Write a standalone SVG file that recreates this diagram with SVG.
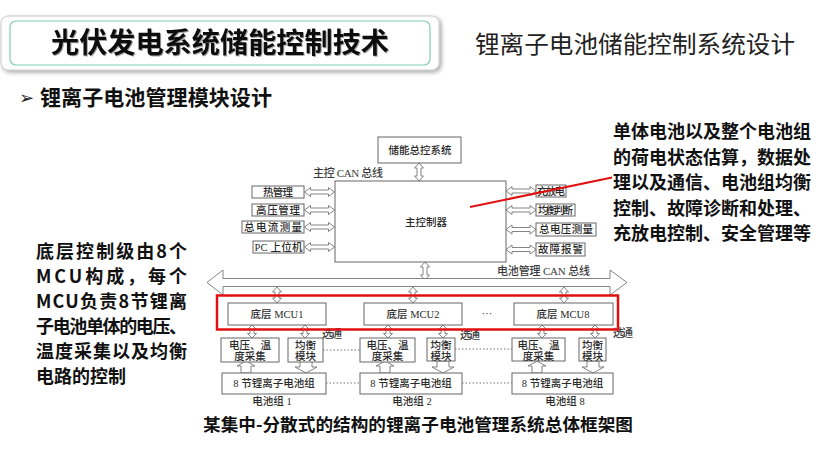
<svg xmlns="http://www.w3.org/2000/svg" xmlns:xlink="http://www.w3.org/1999/xlink" width="830" height="467" viewBox="0 0 830 467">
<style>
.bg{fill:#ffffff}
.box{fill:#ffffff;stroke:#666;stroke-width:1}
.arr{fill:#ffffff;stroke:#777;stroke-width:0.9;stroke-linejoin:miter}
.dot{stroke:#777;stroke-width:1;stroke-dasharray:1.5,2;fill:none}
.red{fill:none;stroke:#e01010}
.dt{font-family:"Liberation Serif","Noto Sans CJK SC",serif;font-size:10.5px;font-weight:500;fill:#2a2a2a;text-anchor:middle;dominant-baseline:central}
.lab{font-family:"Liberation Serif","Noto Sans CJK SC",serif;font-size:11px;font-weight:500;fill:#3a3a3a}
.bold{font-family:"Noto Sans CJK SC","Liberation Sans",sans-serif;font-weight:700;fill:#111}
</style>
<defs>
<filter id="sh" x="-5%" y="-20%" width="110%" height="140%">
<feDropShadow dx="2" dy="2" stdDeviation="2" flood-color="#000" flood-opacity="0.35"/>
</filter>
<filter id="tsh" x="-5%" y="-20%" width="110%" height="140%">
<feDropShadow dx="1" dy="1" stdDeviation="0.6" flood-color="#000" flood-opacity="0.35"/>
</filter>
<path id="ha" d="M0,0 L6,-4.5 L6,-2 L24,-2 L24,-4.5 L30,0 L24,4.5 L24,2 L6,2 L6,4.5 Z"/>
<path id="va18" d="M0,0 L4.5,5 L2,5 L2,13 L4.5,13 L0,18 L-4.5,13 L-2,13 L-2,5 L-4.5,5 Z"/>
<path id="va16" d="M0,0 L4.5,5 L2,5 L2,11 L4.5,11 L0,16 L-4.5,11 L-2,11 L-2,5 L-4.5,5 Z"/>
<path id="va13" d="M0,0 L4.5,4.5 L2,4.5 L2,8.5 L4.5,8.5 L0,13 L-4.5,8.5 L-2,8.5 L-2,4.5 L-4.5,4.5 Z"/>
<path id="ua" d="M0,0 L9,5 L5,5 L5,12 L-5,12 L-5,5 L-9,5 Z"/>
<path id="da" d="M-6,0 L6,0 L6,6 L11,6 L0,12 L-11,6 L-6,6 Z"/>
</defs>
<rect class="bg" x="0" y="0" width="830" height="467"/>

<g id="header">
<rect x="1" y="16" width="438" height="54" rx="7" fill="#fff" stroke="#c8c8c8" stroke-width="1" filter="url(#sh)"/>
<rect x="10" y="21" width="420" height="44" rx="6" fill="#fff" stroke="#7fd0b0" stroke-width="1.2"/>
<text class="bold" x="51" y="53" font-size="28" textLength="338" lengthAdjust="spacingAndGlyphs" fill="#000" filter="url(#tsh)">光伏发电系统储能控制技术</text>
<text x="475" y="52.5" font-family="Noto Sans CJK SC, sans-serif" font-size="24" fill="#222" textLength="320" lengthAdjust="spacingAndGlyphs">锂离子电池储能控制系统设计</text>
</g>

<g id="subheading">
<text x="19" y="104" font-family="DejaVu Sans, sans-serif" font-size="18" fill="#222">➢</text>
<text class="bold" x="40" y="104.5" font-size="21" textLength="232" lengthAdjust="spacingAndGlyphs">锂离子电池管理模块设计</text>
</g>

<g id="note-right" class="bold" font-size="18">
<text x="613" y="137.5" textLength="198">单体电池以及整个电池组</text>
<text x="613" y="163.5" textLength="198">的荷电状态估算，数据处</text>
<text x="613" y="189" textLength="198">理以及通信、电池组均衡</text>
<text x="613" y="214.5" textLength="198">控制、故障诊断和处理、</text>
<text x="613" y="240" textLength="198">充放电控制、安全管理等</text>
</g>

<g id="note-left" class="bold" font-size="18">
<text x="36" y="258" textLength="151">底层控制级由8个</text>
<text x="36" y="283" textLength="151">MCU构成，每个</text>
<text x="36" y="308" textLength="151">MCU负责8节锂离</text>
<text x="36" y="333" textLength="151">子电池单体的电压、</text>
<text x="36" y="358" textLength="151">温度采集以及均衡</text>
<text x="36" y="383">电路的控制</text>
</g>

<g id="connectors">
<use href="#va18" class="arr" x="419" y="163"/>
<use href="#ha" class="arr" x="304.5" y="192"/>
<use href="#ha" class="arr" x="304.5" y="210"/>
<use href="#ha" class="arr" x="304.5" y="227"/>
<use href="#ha" class="arr" x="304.5" y="247"/>
<use href="#ha" class="arr" x="506" y="191"/>
<use href="#ha" class="arr" x="506" y="210"/>
<use href="#ha" class="arr" x="506" y="229.5"/>
<use href="#ha" class="arr" x="506" y="249.5"/>
<use href="#va18" class="arr" x="425" y="262"/>
<path id="can-bus" class="arr" d="M207,282.5 L223,270 L223,278.5 L610,278.5 L610,270 L627,282.5 L610,295 L610,286.5 L223,286.5 L223,295 Z"/>
<use href="#va16" class="arr" x="277" y="287"/>
<use href="#va16" class="arr" x="413" y="287"/>
<use href="#va16" class="arr" x="564" y="287"/>
<use href="#va13" class="arr" x="252" y="325"/>
<use href="#va13" class="arr" x="305" y="325"/>
<use href="#va13" class="arr" x="388" y="325"/>
<use href="#va13" class="arr" x="443" y="325"/>
<use href="#va13" class="arr" x="542" y="325"/>
<use href="#va13" class="arr" x="595" y="325"/>
<use href="#ua" class="arr" x="246" y="361"/>
<use href="#ua" class="arr" x="385" y="361"/>
<use href="#ua" class="arr" x="537" y="361"/>
<use href="#da" class="arr" x="306" y="361"/>
<use href="#da" class="arr" x="443" y="361"/>
<use href="#da" class="arr" x="593" y="361"/>
<line class="dot" x1="323" y1="350" x2="360" y2="350"/>
<line class="dot" x1="326" y1="383" x2="360" y2="383"/>
<line class="dot" x1="455" y1="349" x2="512" y2="349"/>
<line class="dot" x1="462" y1="383" x2="512" y2="383"/>
</g>

<g id="labels">
<text class="lab" x="313" y="177" textLength="70">主控 CAN 总线</text>
<text class="lab" x="497" y="275" textLength="93">电池管理 CAN 总线</text>
<text class="lab" x="322" y="338" font-size="10" textLength="20">选通</text>
<text class="lab" x="460" y="338.5" font-size="10" textLength="20">选通</text>
<text class="lab" x="613" y="337" font-size="10" textLength="20">选通</text>
<text class="dt" x="272" y="401" font-size="11" fill="#444">电池组 1</text>
<text class="dt" x="412" y="401" font-size="11" fill="#444">电池组 2</text>
<text class="dt" x="565" y="401" font-size="11" fill="#444">电池组 8</text>
<text class="dt" x="487" y="313">···</text>
</g>

<g id="n-ess"><rect class="box" x="378" y="137" width="83" height="26"/><text class="dt" x="420" y="150" font-size="11">储能总控系统</text></g>
<g id="n-main"><rect class="box" x="335" y="181" width="171" height="81"/><text class="dt" x="426" y="222">主控制器</text></g>
<g id="n-heat"><rect class="box" x="252" y="186" width="52" height="12"/><text class="dt" x="278" y="192" textLength="30">热管理</text></g>
<g id="n-hv"><rect class="box" x="252" y="204" width="52" height="12"/><text class="dt" x="278" y="210" textLength="44">高压管理</text></g>
<g id="n-cur"><rect class="box" x="242" y="221" width="62" height="12"/><text class="dt" x="273" y="227" textLength="58">总电流测量</text></g>
<g id="n-pc"><rect class="box" x="253" y="241" width="51" height="12"/><text class="dt" x="278.5" y="247" textLength="48">PC 上位机</text></g>
<g id="n-chg"><rect class="box" x="536" y="185" width="30" height="12"/><text class="dt" x="551" y="191" textLength="28">充放电</text></g>
<g id="n-bal"><rect class="box" x="536" y="204" width="39" height="12"/><text class="dt" x="555.5" y="210" textLength="35">均衡判断</text></g>
<g id="n-volt"><rect class="box" x="536" y="223" width="60" height="13"/><text class="dt" x="566" y="229.5" textLength="54">总电压测量</text></g>
<g id="n-fault"><rect class="box" x="536" y="243" width="49" height="13"/><text class="dt" x="560.5" y="249.5" textLength="45">故障报警</text></g>

<g id="n-mcu1"><rect class="box" x="228" y="303" width="98" height="22"/><text class="dt" x="277" y="314">底层 MCU1</text></g>
<g id="n-mcu2"><rect class="box" x="364" y="303" width="98" height="22"/><text class="dt" x="413" y="314">底层 MCU2</text></g>
<g id="n-mcu8"><rect class="box" x="514" y="303" width="99" height="22"/><text class="dt" x="563" y="314">底层 MCU8</text></g>

<g id="n-vt1"><rect class="box" x="221" y="338" width="58" height="24"/><text class="dt" x="250" y="345" font-size="11">电压、温</text><text class="dt" x="250" y="356" font-size="11">度采集</text></g>
<g id="n-eq1"><rect class="box" x="288" y="338" width="35" height="24"/><text class="dt" x="305.5" y="345" font-size="11">均衡</text><text class="dt" x="305.5" y="356" font-size="11">模块</text></g>
<g id="n-bat1"><rect class="box" x="222" y="373" width="104" height="21"/><text class="dt" x="274" y="383.5">8 节锂离子电池组</text></g>

<g id="n-vt2"><rect class="box" x="360" y="338" width="55" height="24"/><text class="dt" x="387.5" y="345" font-size="11">电压、温</text><text class="dt" x="387.5" y="356" font-size="11">度采集</text></g>
<g id="n-eq2"><rect class="box" x="427" y="338" width="28" height="23"/><text class="dt" x="441" y="345" font-size="11">均衡</text><text class="dt" x="441" y="356" font-size="11">模块</text></g>
<g id="n-bat2"><rect class="box" x="360" y="373" width="102" height="21"/><text class="dt" x="411" y="383.5">8 节锂离子电池组</text></g>

<g id="n-vt8"><rect class="box" x="512" y="338" width="53" height="23"/><text class="dt" x="538.5" y="345" font-size="11">电压、温</text><text class="dt" x="538.5" y="356" font-size="11">度采集</text></g>
<g id="n-eq8"><rect class="box" x="579" y="338" width="27" height="23"/><text class="dt" x="592.5" y="345" font-size="11">均衡</text><text class="dt" x="592.5" y="356" font-size="11">模块</text></g>
<g id="n-bat8"><rect class="box" x="512" y="373" width="101" height="21"/><text class="dt" x="562.5" y="383.5">8 节锂离子电池组</text></g>

<g id="highlights">
<rect class="red" x="217" y="295.5" width="401" height="34" stroke-width="2.5"/>
<line class="red" x1="470" y1="207" x2="612" y2="177.5" stroke-width="2"/>
</g>

<g id="caption">
<text class="bold" x="203" y="431" font-size="17.5" textLength="430" lengthAdjust="spacingAndGlyphs">某集中-分散式的结构的锂离子电池管理系统总体框架图</text>
</g>
</svg>
